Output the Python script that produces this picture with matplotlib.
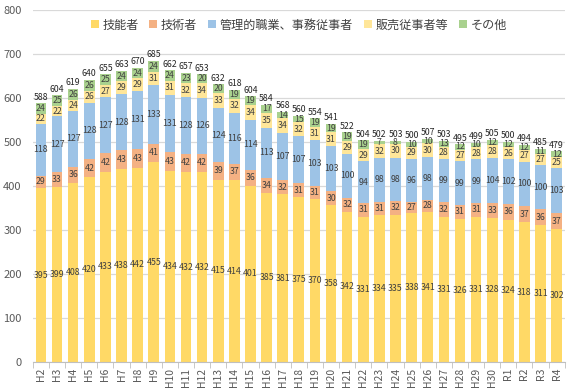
import matplotlib
matplotlib.use("Agg")
import matplotlib.pyplot as plt
import numpy as np

plt.rcParams['font.family'] = ['Noto Sans CJK JP', 'DejaVu Sans']

years = ["H2","H3","H4","H5","H6","H7","H8","H9","H10","H11","H12","H13","H14","H15","H16",
         "H17","H18","H19","H20","H21","H22","H23","H24","H25","H26","H27","H28","H29","H30",
         "R1","R2","R3","R4"]
ginou = [395,399,408,420,433,438,442,455,434,432,432,415,414,401,385,381,375,370,358,342,
         331,334,335,338,341,331,326,331,328,324,318,311,302]
gijutsu = [29,33,36,42,42,43,43,41,43,42,42,39,37,36,34,32,31,31,30,32,
           31,31,32,27,28,32,31,31,33,36,37,36,37]
kanri = [118,127,127,128,127,128,131,133,131,128,126,124,116,114,113,107,107,103,103,100,
         94,98,98,96,98,99,99,99,104,102,100,100,103]
hanbai = [22,22,24,26,27,29,29,31,31,32,34,33,32,34,35,34,32,31,31,29,
          29,32,30,29,30,28,27,28,28,26,27,27,25]
sonota = [24,25,26,26,25,24,24,24,24,23,20,20,19,19,17,14,15,19,19,19,
          19,7,8,10,10,13,12,10,12,12,12,11,12]
totals = [588,604,619,640,655,663,670,685,662,657,653,632,618,604,584,568,560,554,541,522,
          504,502,503,500,507,503,495,499,505,500,494,485,479]

series = [("技能者", ginou, "#FFD966"),
          ("技術者", gijutsu, "#F4B183"),
          ("管理的職業、事務従事者", kanri, "#9DC3E6"),
          ("販売従事者等", hanbai, "#FFE699"),
          ("その他", sonota, "#A9D18E")]

fig = plt.figure(figsize=(5.67, 3.89), dpi=100)
ax = fig.add_axes([0.058, 0.069, 0.938, 0.905])

x = np.arange(len(years))
bottom = np.zeros(len(years))
for name, vals, col in series:
    vals = np.array(vals, dtype=float)
    ax.bar(x, vals, 0.66, bottom=bottom, color=col, label=name, zorder=2)
    for xi, b, v in zip(x, bottom, vals):
        ax.text(xi, b + v / 2, f"{int(v)}", ha="center", va="center",
                fontsize=6.3, color="#404040", zorder=3)
    bottom += vals

for xi, b, t in zip(x, bottom, totals):
    ax.text(xi, b + 4, f"{t}", ha="center", va="bottom", fontsize=6.3,
            color="#262626", zorder=3)

ax.set_xlim(-0.5, len(years) - 0.5)
ax.set_ylim(0, 800)
ax.set_yticks(range(0, 801, 100))
ax.yaxis.grid(True, color="#D9D9D9", linewidth=0.9, zorder=0)
ax.set_axisbelow(True)
ax.set_xticks(x)
ax.set_xticklabels(years, rotation=90, fontsize=7.5, color="#595959")
ax.tick_params(axis="x", length=0, pad=4)
ax.set_xticks(np.arange(-0.5, len(years), 1), minor=True)
ax.tick_params(axis="x", which="minor", length=4, color="#BFBFBF")
ax.tick_params(axis="y", length=0, labelsize=8, labelcolor="#595959", pad=8)
for s in ["top", "right", "left"]:
    ax.spines[s].set_visible(False)
ax.spines["bottom"].set_color("#BFBFBF")

leg = ax.legend(loc="upper center", bbox_to_anchor=(0.5, 1.0), ncol=5, frameon=False,
                fontsize=8.7, handlelength=0.65, handleheight=0.65, handletextpad=0.3,
                columnspacing=0.9, labelcolor="#404040", borderaxespad=0.3)

fig.savefig("out.png", dpi=100)
